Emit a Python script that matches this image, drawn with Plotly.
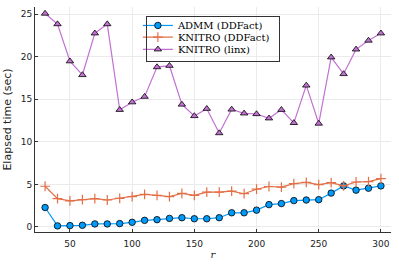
import plotly.graph_objects as go

r = list(range(30, 301, 10))
admm = [2.28, 0.12, 0.15, 0.19, 0.35, 0.35, 0.39, 0.54, 0.77, 0.85, 1.0, 1.08, 0.96,
        0.96, 1.08, 1.66, 1.66, 1.97, 2.62, 2.74, 3.09, 3.16, 3.2, 3.97, 4.82, 4.32, 4.55, 4.82]
knitro_ddfact = [4.78, 3.32, 3.05, 3.2, 3.32, 3.16, 3.36, 3.55, 3.82, 3.7, 3.55, 3.93, 3.7,
                 4.09, 4.09, 4.2, 3.9, 4.43, 4.75, 4.67, 5.09, 5.24, 4.98, 5.21, 4.82, 5.28, 5.32, 5.67]
knitro_linx = [25.08, 23.84, 19.48, 17.86, 22.76, 23.84, 13.77, 14.66, 15.31, 18.79, 18.95, 14.39, 13.04,
               13.89, 11.03, 13.81, 13.35, 13.27, 12.77, 13.77, 12.23, 16.63, 12.15, 19.94, 17.98, 20.87, 21.91, 22.76]

xticks = [50, 100, 150, 200, 250, 300]
yticks = [0, 5, 10, 15, 20, 25]

fig = go.Figure()
fig.add_trace(go.Scatter(x=r, y=admm, mode="lines+markers", name="ADMM (DDFact)",
                         legend="legend",
                         line=dict(color="#009AFA", width=1.2),
                         marker=dict(symbol="circle", size=6.5, color="#009AFA",
                                     line=dict(color="black", width=0.8))))
fig.add_trace(go.Scatter(x=r, y=knitro_ddfact, mode="lines+markers", name="KNITRO (DDFact)",
                         legend="legend2",
                         line=dict(color="#E36F47", width=1.2),
                         marker=dict(symbol="cross-thin", size=7, color="#E36F47",
                                     line=dict(color="#E36F47", width=1.2))))
fig.add_trace(go.Scatter(x=r, y=knitro_linx, mode="lines+markers", name="KNITRO (linx)",
                         legend="legend3",
                         line=dict(color="#C271D2", width=1.2),
                         marker=dict(symbol="triangle-up", size=6.5, color="#C271D2",
                                     line=dict(color="black", width=0.8))))

leg_common = dict(xanchor="left", yanchor="middle", bgcolor="rgba(0,0,0,0)",
                  borderwidth=0, font=dict(family="DejaVu Serif", size=10, color="black"),
                  itemwidth=30)
fig.update_layout(
    width=399, height=266,
    margin=dict(l=34, r=8, t=7, b=30),
    paper_bgcolor="white", plot_bgcolor="white",
    font=dict(family="DejaVu Sans", size=9, color="#222222"),
    showlegend=True,
    legend=dict(x=0.289, y=0.918, **leg_common),
    legend2=dict(x=0.289, y=0.866, **leg_common),
    legend3=dict(x=0.289, y=0.812, **leg_common),
    annotations=[dict(xref="paper", yref="paper", x=0.311, y=0.961, xanchor="left", yanchor="top",
                      text=" ", showarrow=False, width=132, height=44, borderpad=0,
                      bordercolor="#333333", borderwidth=1, bgcolor="rgba(0,0,0,0)")],
    xaxis=dict(range=[21.9, 308.1], tickvals=xticks, showgrid=True,
               gridcolor="#EBEBEB", gridwidth=0.8, zeroline=False,
               showline=True, linecolor="#333333", linewidth=1,
               ticks="inside", ticklen=3, tickcolor="#333333", ticklabelstandoff=3,
               title=dict(text="<i>r</i>", font=dict(family="DejaVu Serif", size=10), standoff=3)),
    yaxis=dict(range=[-0.6, 25.85], tickvals=yticks, showgrid=True,
               gridcolor="#EBEBEB", gridwidth=0.8, zeroline=False,
               showline=True, linecolor="#333333", linewidth=1,
               ticks="inside", ticklen=3, tickcolor="#333333",
               title=dict(text="Elapsed time (sec)", font=dict(family="DejaVu Sans", size=11), standoff=6)),
)

fig.write_html("out.html", config={"displayModeBar": False},
               post_script="document.body.style.margin='0';")
